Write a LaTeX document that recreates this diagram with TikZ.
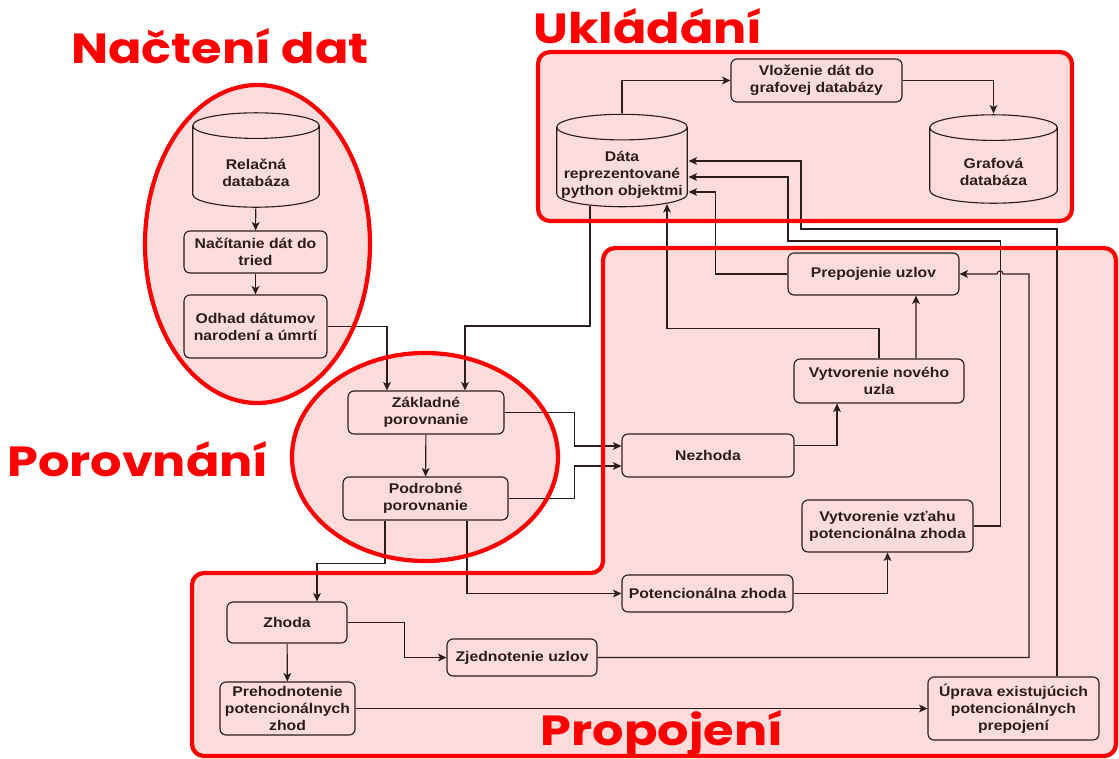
\documentclass[tikz,border=0pt]{standalone}
\usepackage{fontspec}
\setmainfont{Liberation Sans}[FakeStretch=1.12]
\newfontfamily\titlefont{Poppins}[FakeStretch=1.17]
\usetikzlibrary{arrows.meta, calc}

\definecolor{regionfill}{RGB}{255,220,220}
\definecolor{lineclr}{RGB}{45,28,28}
\definecolor{titlered}{RGB}{255,0,0}

% lines of a drum label, hung from the first line
\newcommand{\drumtext}[1]{\begin{tabular}[t]{@{}c@{}}#1\end{tabular}}

\begin{document}
\begin{tikzpicture}[> = {Stealth[length = 6pt, width = 5.5pt, inset = 1.5pt]}, % arrow head style
        x = 0.025cm, y = -0.025cm, % one unit = one pixel, y downwards
        line width = 0.8pt, draw = lineclr % line style
    ]

    \tikzstyle{txt} = [text = lineclr, font = \bfseries\fontsize{10}{12}\selectfont]
    \tikzstyle{box} = [txt, align = center, draw = lineclr, fill = regionfill,
        rounded corners = 0.15cm, inner sep = 2pt]
    % database drum, text sits below the lid
    \tikzstyle{db} = [txt, text height = 29pt, path picture = {
        \draw[fill = regionfill] let \p1 = (path picture bounding box.south west),
            \p2 = (path picture bounding box.north east), \n1 = {(\x2-\x1)/2-0.5pt} in
            (\x1+0.5pt, \y2-0.34cm) -- (\x1+0.5pt, \y1+0.34cm)
            arc[start angle = 180, end angle = 360, x radius = {\n1*1pt}, y radius = 0.32cm]
            -- (\x2-0.5pt, \y2-0.34cm)
            arc[start angle = 0, end angle = 180, x radius = {\n1*1pt}, y radius = 0.32cm]
            -- cycle
            (\x1+0.5pt, \y2-0.34cm)
            arc[start angle = 180, end angle = 360, x radius = {\n1*1pt}, y radius = 0.32cm];
        }]
    \tikzstyle{region} = [draw = titlered, line width = 3pt, rounded corners = 0.3cm]
    \tikzstyle{title} = [text = titlered, anchor = base,
        font = \titlefont\bfseries\fontsize{30}{30}\selectfont]
    \tikzset{wh/.style 2 args = {minimum width = #1*0.025cm, minimum height = #2*0.025cm}}

    \useasboundingbox (0,0) rectangle (1119,758);

    % pink areas
    \fill[regionfill, rounded corners = 0.3cm] (538,52) rectangle (1072,221);
    \fill[regionfill, rounded corners = 0.3cm] (603,248) -- (1116,248) -- (1116,756)
        -- (192,756) -- (192,573) -- (603,573) -- cycle;
    \fill[regionfill] (257.5,244) ellipse [x radius = 112.5, y radius = 159];
    \fill[regionfill] (425,457) ellipse [x radius = 133, y radius = 104];

    % titles
    \node[title] (tnac) at (220,63) {Načtení dat};
    \node[title] (tukl) at (648,43) {Ukládání};
    \node[title] (tpor) at (138,476) {Porovnání};
    \node[title] (tpro) at (662,745) {Propojení};

    % nacteni
    \node[db, wh = {128}{96}] (rel) at (256,160) {\drumtext{Relačná\\databáza}};
    \node[box, wh = {143}{42}] (nac) at (255.5,252) {Načítanie dát do\\tried};
    \node[box, wh = {143}{63}] (odh) at (255.5,326.5) {Odhad dátumov\\narodení a úmrtí};

    % porovnani
    \node[box, wh = {156}{43}] (zak) at (426,412.5) {Základné\\porovnanie};
    \node[box, wh = {165}{43}] (pod) at (425.5,498.5) {Podrobné\\porovnanie};

    % ukladani
    \node[db, wh = {132}{94}] (dat) at (622,160.5) {\drumtext{Dáta\\reprezentované\\python objektmi}};
    \node[box, wh = {171}{43}] (vlo) at (816.5,80.5) {Vloženie dát do\\grafovej databázy};
    \node[db, wh = {129}{90}] (gra) at (993.5,159) {\drumtext{Grafová\\databáza}};

    % propojeni
    \node[box, wh = {172}{43}] (nez) at (708,455.5) {Nezhoda};
    \node[box, wh = {170}{44}] (vno) at (879,381) {Vytvorenie nového\\uzla};
    \node[box, wh = {171}{42}] (pre) at (873.5,274) {Prepojenie uzlov};
    \node[box, wh = {171}{52}] (vvz) at (887.5,526) {Vytvorenie vzťahu\\potencionálna zhoda};
    \node[box, wh = {171}{37}] (pot) at (707.5,593.5) {Potencionálna zhoda};
    \node[box, wh = {120}{41}] (zho) at (287,622.5) {Zhoda};
    \node[box, wh = {150}{37}] (zje) at (522,657.5) {Zjednotenie uzlov};
    \node[box, wh = {135}{53}] (prh) at (287.5,708.5) {Prehodnotenie\\potencionálnych\\zhod};
    \node[box, wh = {171}{63}] (upr) at (1013.5,708.5) {Úprava existujúcich\\potencionálnych\\prepojení};

    % connectors
    \draw[->] (rel) -- (nac);
    \draw[->] (nac) -- (odh);
    \draw[->] (odh.east) -| ($(zak.north)+(-39,0)$);
    \draw[->] ($(dat.south)+(-32,-2)$) |- (465,326) -- ($(zak.north)+(39,0)$);
    \draw[->] (zak.east) -- ++(70,0) |- ($(nez.west)+(0,-9.5)$);
    \draw[->] (zak) -- (pod);
    \draw[->] (pod.east) -- ++(66,0) |- ($(nez.west)+(0,10.5)$);
    \draw[->] ($(pod.south)+(-40.5,0)$) -- ++(0,43) -| ($(zho.north)+(30,0)$);
    \draw[->] ($(pod.south)+(41.5,0)$) |- (pot.west);
    \draw[->] ($(nez.east)+(0,-10)$) -| ($(vno.south)+(-42,0)$);
    \draw[->] ($(vno.north)+(37,0)$) -- ($(pre.south)+(42.5,0)$);
    \draw[->] (vno.north) -- ++(0,-30) -| ($(dat.south)+(45,-4)$);
    \draw[->] (pre.west) -- ++(-72,0) |- ($(dat.east)+(0,31.5)$);
    \draw[->] (vvz.east) -- ++(27,0) |- (788,241) |- ($(dat.east)+(0,16.5)$);
    \draw[->] ($(upr.north)+(43.5,0)$) |- (801,229) |- ($(dat.east)+(0,0.5)$);
    \draw[->] (zje.east) -| (1029,274) -- (1003,274)
        arc[start angle = 0, end angle = -180, radius = 3] -- (pre.east);
    \draw[->] (pot.east) -| (vvz.south);
    \draw[->] (zho.east) -- ++(57,0) |- (zje.west);
    \draw[->] (zho) -- (prh);
    \draw[->] (prh.east) -- (upr.west);
    \draw[->] (dat.north) |- (vlo.west);
    \draw[->] (vlo.east) -| (gra.north);

    % red outlines
    \draw[region] (538,52) rectangle (1072,221);
    \draw[region] (603,248) -- (1116,248) -- (1116,756)
        -- (192,756) -- (192,573) -- (603,573) -- cycle;
    \draw[region] (257.5,244) ellipse [x radius = 112.5, y radius = 159];
    \draw[region] (425,457) ellipse [x radius = 133, y radius = 104];
\end{tikzpicture}
\end{document}
